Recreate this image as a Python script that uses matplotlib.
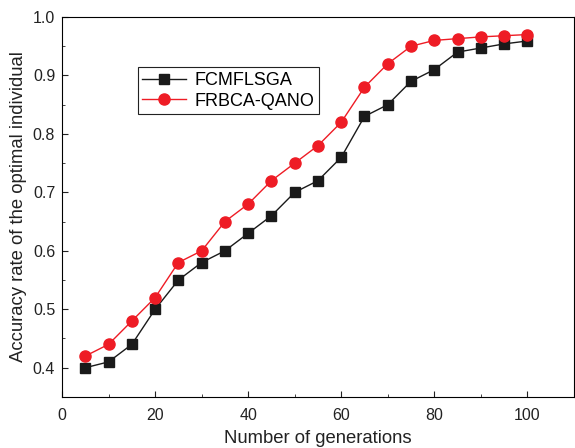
import matplotlib
matplotlib.use('Agg')
import matplotlib.pyplot as plt
from matplotlib.ticker import MultipleLocator

plt.rcParams['font.family'] = ['Liberation Sans', 'DejaVu Sans']

generations = [5, 10, 15, 20, 25, 30, 35, 40, 45, 50, 55, 60, 65, 70, 75, 80, 85, 90, 95, 100]
fcmflsga = [0.40, 0.41, 0.44, 0.50, 0.55, 0.58, 0.60, 0.63, 0.66, 0.70,
            0.72, 0.76, 0.83, 0.85, 0.89, 0.91, 0.94, 0.947, 0.954, 0.959]
frbca_qano = [0.42, 0.44, 0.48, 0.52, 0.58, 0.60, 0.65, 0.68, 0.72, 0.75,
              0.78, 0.82, 0.88, 0.92, 0.95, 0.96, 0.963, 0.966, 0.968, 0.970]

fig = plt.figure(figsize=(5.75, 4.48), dpi=100)
ax = fig.add_axes([0.108, 0.114, 0.89, 0.848])

ax.plot(generations, fcmflsga, color='#1a1a1a', marker='s', markersize=7,
        linewidth=1.0, label='FCMFLSGA')
ax.plot(generations, frbca_qano, color='#ee1c25', marker='o', markersize=8,
        linewidth=1.0, label='FRBCA-QANO')

ax.set_xlim(0, 110)
ax.set_ylim(0.35, 1.0)
ax.xaxis.set_major_locator(MultipleLocator(20))
ax.xaxis.set_minor_locator(MultipleLocator(10))
ax.yaxis.set_major_locator(MultipleLocator(0.1))
ax.yaxis.set_minor_locator(MultipleLocator(0.05))
ax.tick_params(which='both', direction='in', labelsize=11.5, colors='#222222')
ax.tick_params(which='major', length=4.5)
ax.tick_params(which='minor', length=2.5)
ax.tick_params(axis='x', pad=8)
ax.tick_params(axis='y', pad=5)
ax.set_xticks([0, 20, 40, 60, 80, 100])

ax.set_xlabel('Number of generations', fontsize=13.3, color='#222222', labelpad=5)
ax.set_ylabel('Accuracy rate of the optimal individual', fontsize=13.3,
              color='#222222', labelpad=4)

leg = ax.legend(loc='upper left', bbox_to_anchor=(0.130, 0.891), fontsize=13,
                fancybox=False, edgecolor='#222222', framealpha=1,
                handlelength=2.4, borderpad=0.25, labelspacing=0.2, handletextpad=0.5)
leg.get_frame().set_linewidth(0.8)

plt.savefig('out.png', dpi=100)
